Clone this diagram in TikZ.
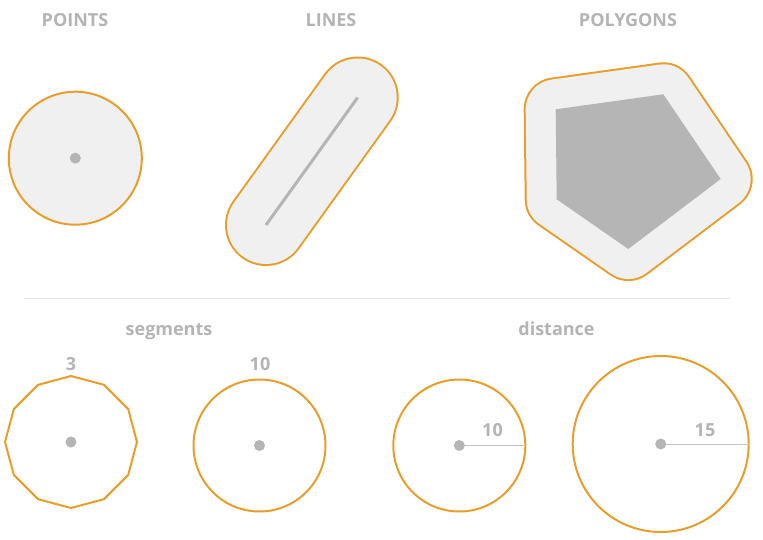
\documentclass[tikz,border=0pt]{standalone}
\usepackage{fontspec}
\setmainfont{Open Sans}
\usepackage{tikz}
\usepackage{xcolor}
\usetikzlibrary{shapes.geometric, positioning}
\definecolor{bufline}{RGB}{233,158,42}
\definecolor{buffill}{RGB}{240,240,240}
\definecolor{geomgray}{RGB}{181,181,181}
\definecolor{labgray}{RGB}{180,180,180}
\definecolor{rulegray}{RGB}{230,230,230}

\begin{document}
\begin{tikzpicture}[x=1pt, y=-1pt,
    heading/.style={anchor=base, text=labgray, font=\bfseries\fontsize{18}{20}\selectfont},
    ring/.style={circle, draw=bufline, line width=2pt, inner sep=0pt, outer sep=0pt},
    dot/.style={circle, fill=geomgray, inner sep=0pt, minimum size=11pt},
    radline/.style={draw=geomgray!80, line width=1pt}]

            \useasboundingbox (0,0) rectangle (763,540);

            % headings
            \node[heading] (hpts) at (75,26.5) {POINTS};
            \node[heading] (hlin) at (331,26.5) {LINES};
            \node[heading] (hpol) at (628,26.5) {POLYGONS};

            % points
            \node[ring, fill=buffill, minimum size=133pt] (Rpt) at (75.3,158.2) {};
            \node[dot] (Dpt) at (Rpt) {};

            % lines
            \coordinate (L1) at (266,225);
            \coordinate (L2) at (357.7,97.5);
            \draw[bufline, line width=82pt, line cap=round] (L1) -- (L2);
            \draw[buffill, line width=78pt, line cap=round] (L1) -- (L2);
            \draw[geomgray, line width=3pt] (L1) -- (L2);

            % polygons
            \coordinate (P1) at (555.7,109.3);
            \coordinate (P2) at (663.3,94.3);
            \coordinate (P3) at (720.7,179);
            \coordinate (P4) at (628.3,249);
            \coordinate (P5) at (556.7,199.3);
            \draw[bufline, line width=64pt, line join=round] (P1) -- (P2) -- (P3) -- (P4) -- (P5) -- cycle;
            \fill[buffill] (P1) -- (P2) -- (P3) -- (P4) -- (P5) -- cycle;
            \draw[buffill, line width=60pt, line join=round] (P1) -- (P2) -- (P3) -- (P4) -- (P5) -- cycle;
            \fill[geomgray] (P1) -- (P2) -- (P3) -- (P4) -- (P5) -- cycle;

            \draw[rulegray, line width=1.5pt] (24,298.5) -- (730,298.5);

            % segments
            \node[heading] (hseg) at (169,335) {segments};
            \node[ring, regular polygon, regular polygon sides=12, shape border rotate=15, minimum size=132pt] (Rs3) at (71,442) {};
            \node[dot] (Ds3) at (Rs3.center) {};
            \node[heading] (ls3) at (71,370.5) {3};
            \node[ring, minimum size=132pt] (Rs10) at (259.5,445.5) {};
            \node[dot] (Ds10) at (Rs10) {};
            \node[heading] (ls10) at (260,370.5) {10};

            % distance
            \node[heading] (hdis) at (556.5,335) {distance};
            \node[ring, minimum size=132pt] (Rd10) at (459.3,445.5) {};
            \node[ring, minimum size=176pt] (Rd15) at (660.7,444) {};
            \draw[radline] (Rd10.center) -- (Rd10.east);
            \draw[radline] (Rd15.center) -- (Rd15.east);
            \node[dot] (Dd10) at (Rd10) {};
            \node[dot] (Dd15) at (Rd15) {};
            \node[heading] (ld10) at (492.5,436.7) {10};
            \node[heading] (ld15) at (705,436.7) {15};

        \end{tikzpicture}
\end{document}
